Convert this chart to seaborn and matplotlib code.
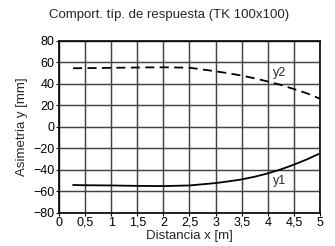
import matplotlib
matplotlib.use("Agg")
import matplotlib.pyplot as plt
import seaborn as sns
import pandas as pd

x_vals = [0.27, 0.5, 1.0, 1.5, 2.0, 2.5, 3.0, 3.25, 3.5, 3.75, 4.0, 4.25, 4.5, 4.75, 5.0]
y1_vals = [-54.2, -54.4, -54.6, -55.0, -55.2, -54.6, -52.4, -50.8, -49.0, -46.5, -43.4, -39.7, -35.3, -30.4, -24.8]
y2_vals = [54.3, 54.4, 54.7, 55.0, 55.2, 54.8, 51.5, 49.6, 47.5, 44.9, 42.0, 38.8, 35.0, 31.0, 26.0]
x_ticks = [0, 0.5, 1, 1.5, 2, 2.5, 3, 3.5, 4, 4.5, 5]
x_tick_labels = ["0", "0,5", "1", "1,5", "2", "2,5", "3", "3,5", "4", "4,5", "5"]
y_ticks = [-80, -60, -40, -20, 0, 20, 40, 60, 80]
title = "Comport. típ. de respuesta (TK 100x100)"
xlabel = "Distancia x [m]"
ylabel = "Asimetria y [mm]"

sns.set_theme(style="whitegrid", rc={"grid.color": "#444444", "grid.linewidth": 0.9,
                                     "axes.edgecolor": "black",
                                     "xtick.bottom": True, "ytick.left": True,
                                     "xtick.major.size": 2, "ytick.major.size": 2,
                                     "xtick.major.pad": 1, "ytick.major.pad": 1})
plt.rcParams["font.family"] = ["Liberation Sans", "DejaVu Sans"]

df = pd.DataFrame({"x": x_vals + x_vals,
                   "y": y1_vals + y2_vals,
                   "s": ["y1"] * len(x_vals) + ["y2"] * len(x_vals)})

fig, ax = plt.subplots(figsize=(3.35, 2.46), dpi=100)
fig.subplots_adjust(left=0.176, right=0.955, bottom=0.135, top=0.835)

sns.lineplot(data=df[df.s == "y1"], x="x", y="y", ax=ax, color="black", lw=1.3)
sns.lineplot(data=df[df.s == "y2"], x="x", y="y", ax=ax, color="black", lw=1.3,
             linestyle=(0, (5, 3)))
ax.set_xlim(0, 5)
ax.set_ylim(-80, 80)
ax.set_xticks(x_ticks)
ax.set_xticklabels(x_tick_labels)
ax.set_yticks(y_ticks)
ax.tick_params(axis="both", labelsize=9, length=2, width=0.8, pad=1, colors="black")
ax.set_xlabel(xlabel, fontsize=9.5, labelpad=1)
ax.set_ylabel(ylabel, fontsize=9.5, labelpad=4)
fig.text(0.505, 0.938, title, fontsize=9.5, ha="center", va="center")
ax.text(4.1, 50, "y2", fontsize=9, ha="left", va="center")
ax.text(4.1, -50, "y1", fontsize=9, ha="left", va="center")
for xv in x_ticks:
    ax.axvline(xv, color="#444444", linewidth=0.9, zorder=1.5)
for yv in y_ticks:
    ax.axhline(yv, color="#444444", linewidth=0.9, zorder=1.5)
for s in ax.spines.values():
    s.set_linewidth(1.2)
fig.savefig("out.png", dpi=100)
